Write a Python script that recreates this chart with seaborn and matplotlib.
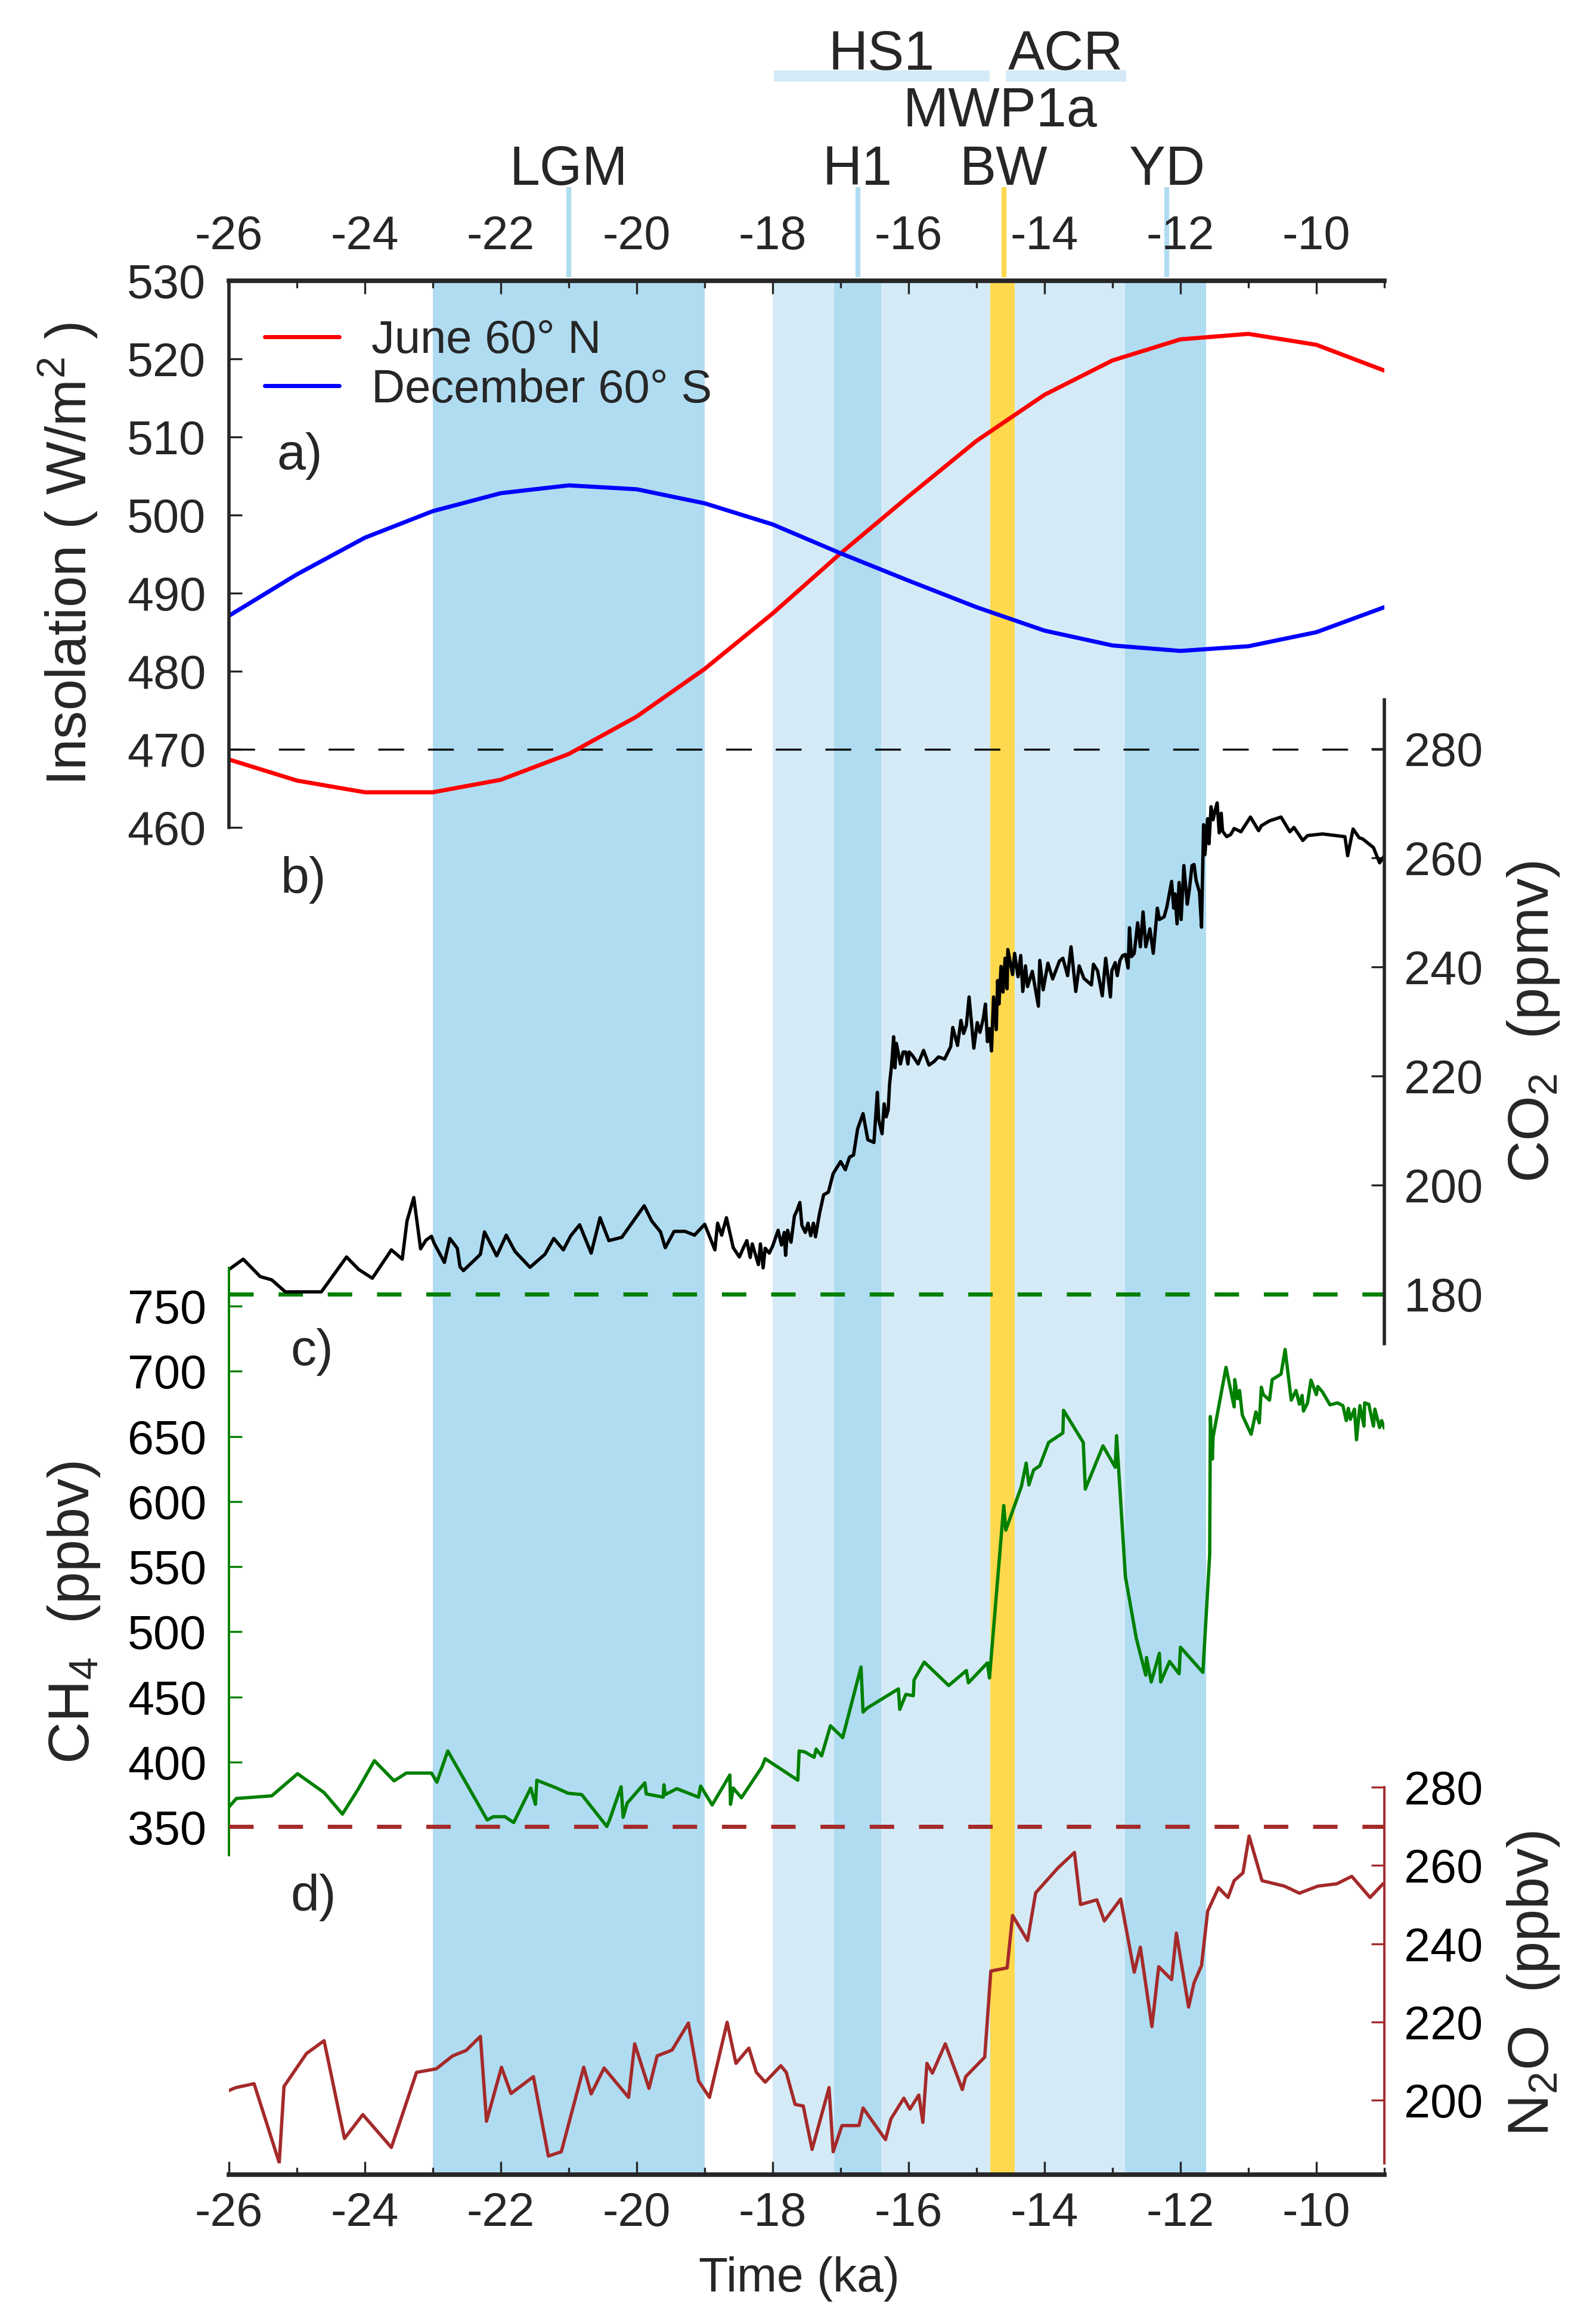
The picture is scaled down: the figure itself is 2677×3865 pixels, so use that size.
import numpy as np
import pandas as pd
import seaborn as sns
import matplotlib.pyplot as plt
from matplotlib.patches import Rectangle
from matplotlib.ticker import MultipleLocator

# a) insolation (W/m2), one value per ka
ins_age = [-26, -25, -24, -23, -22, -21, -20, -19, -18, -17, -16, -15, -14, -13, -12, -11, -10, -9]
june_60n = [468.7, 466.0, 464.5, 464.5, 466.1, 469.4, 474.2, 480.3, 487.4, 495.1,
            502.4, 509.5, 515.4, 519.8, 522.5, 523.2, 521.8, 518.5]
dec_60s = [487.1, 492.4, 497.1, 500.5, 502.8, 503.8, 503.3, 501.5, 498.8, 495.1,
           491.6, 488.2, 485.2, 483.3, 482.6, 483.2, 485.0, 488.2]

# b) CO2 (ppmv)
co2_age = [-26.00, -25.79, -25.54, -25.37, -25.17, -24.64, -24.27, -24.09, -23.89, -23.61,
           -23.45, -23.38, -23.28, -23.18, -23.10, -23.02, -22.98, -22.83, -22.75, -22.64,
           -22.60, -22.55, -22.34, -22.30, -22.24, -22.06, -21.92, -21.79, -21.57, -21.35,
           -21.22, -21.08, -20.97, -20.84, -20.67, -20.54, -20.41, -20.22, -19.89, -19.78,
           -19.65, -19.58, -19.45, -19.29, -19.15, -19.00, -18.85, -18.81, -18.75, -18.68,
           -18.58, -18.49, -18.43, -18.38, -18.33, -18.30, -18.21, -18.18, -18.14, -18.11,
           -18.05, -18.00, -17.92, -17.87, -17.83, -17.81, -17.78, -17.73, -17.68, -17.64,
           -17.60, -17.57, -17.52, -17.48, -17.44, -17.40, -17.37, -17.31, -17.25, -17.18,
           -17.11, -17.00, -16.93, -16.87, -16.81, -16.75, -16.67, -16.60, -16.51, -16.46,
           -16.44, -16.39, -16.36, -16.33, -16.30, -16.28, -16.25, -16.22, -16.20, -16.18,
           -16.12, -16.08, -16.04, -16.01, -15.99, -15.94, -15.86, -15.78, -15.70, -15.63,
           -15.56, -15.47, -15.38, -15.35, -15.28, -15.23, -15.19, -15.15, -15.11, -15.04,
           -14.99, -14.95, -14.90, -14.87, -14.84, -14.81, -14.78, -14.75, -14.71, -14.69,
           -14.67, -14.64, -14.61, -14.58, -14.55, -14.54, -14.47, -14.44, -14.39, -14.35,
           -14.32, -14.28, -14.25, -14.18, -14.09, -14.07, -14.02, -13.95, -13.88, -13.78,
           -13.73, -13.66, -13.61, -13.54, -13.49, -13.42, -13.31, -13.28, -13.22, -13.15,
           -13.10, -13.03, -13.01, -12.96, -12.93, -12.89, -12.85, -12.81, -12.77, -12.75,
           -12.72, -12.68, -12.63, -12.59, -12.55, -12.51, -12.45, -12.40, -12.34, -12.31,
           -12.24, -12.20, -12.13, -12.10, -12.08, -12.05, -12.02, -11.99, -11.95, -11.90,
           -11.87, -11.83, -11.80, -11.77, -11.72, -11.69, -11.66, -11.64, -11.60, -11.58,
           -11.55, -11.52, -11.49, -11.46, -11.43, -11.40, -11.38, -11.32, -11.26, -11.21,
           -11.11, -10.97, -10.85, -10.81, -10.69, -10.52, -10.39, -10.33, -10.20, -10.13,
           -9.91, -9.58, -9.54, -9.46, -9.37, -9.32, -9.16, -9.07, -9.01]
co2_ppmv = [184.5, 186.4, 183.2, 182.6, 180.4, 180.4, 186.8, 184.5, 182.9, 188.1,
            186.4, 193.4, 197.7, 188.3, 189.9, 190.6, 189.3, 185.8, 190.2, 188.4,
            185.0, 184.3, 186.8, 187.3, 191.4, 187.0, 190.8, 187.8, 184.9, 187.3,
            190.2, 188.1, 190.7, 192.7, 187.5, 194.0, 189.8, 190.4, 196.2, 193.4,
            191.4, 188.5, 191.5, 191.5, 190.8, 192.8, 188.1, 193.0, 190.8, 194.0,
            188.5, 186.8, 188.5, 189.8, 186.7, 189.2, 185.4, 189.2, 184.8, 188.4,
            187.5, 188.8, 191.7, 189.0, 191.3, 187.1, 191.7, 189.5, 194.3, 195.4,
            196.8, 192.6, 191.3, 193.0, 190.7, 193.0, 190.5, 194.8, 198.2, 198.7,
            202.1, 204.3, 202.8, 205.1, 205.5, 210.3, 213.1, 208.3, 207.8, 217.0,
            212.0, 209.4, 214.9, 212.5, 213.8, 218.5, 222.0, 227.2, 221.5, 226.0,
            222.2, 224.4, 224.4, 222.2, 224.4, 223.7, 222.2, 224.7, 222.0, 222.6,
            223.5, 223.1, 225.4, 228.9, 225.6, 230.2, 227.8, 229.3, 234.5, 225.1,
            229.8, 228.0, 230.6, 233.2, 226.3, 228.7, 224.6, 234.5, 228.5, 237.5,
            233.2, 240.1, 235.4, 241.6, 236.0, 243.2, 238.6, 242.5, 238.2, 242.1,
            235.5, 240.2, 236.4, 239.2, 232.8, 241.2, 235.8, 240.7, 237.8, 241.1,
            241.6, 238.4, 243.7, 235.5, 240.2, 237.9, 236.7, 240.5, 239.3, 234.7,
            241.6, 234.5, 239.3, 240.8, 238.4, 241.2, 242.1, 242.3, 239.8, 247.2,
            241.9, 242.5, 248.1, 243.7, 250.1, 243.7, 247.0, 242.5, 250.8, 248.7,
            249.2, 251.0, 255.7, 250.8, 253.4, 247.9, 255.5, 248.7, 258.6, 251.5,
            254.1, 258.6, 258.8, 255.9, 253.7, 247.3, 266.1, 260.6, 267.2, 262.6,
            269.4, 267.0, 268.7, 270.1, 264.6, 268.2, 264.9, 263.9, 264.3, 265.4,
            264.8, 267.5, 265.0, 265.9, 266.8, 267.5, 264.8, 265.6, 263.2, 264.1,
            264.4, 263.9, 260.4, 265.3, 263.7, 263.5, 261.9, 259.1, 260.2]

# c) CH4 (ppbv)
ch4_age = [-26.00, -25.89, -25.37, -24.99, -24.60, -24.33, -24.10, -23.86, -23.57, -23.39,
           -23.02, -22.94, -22.78, -22.20, -22.11, -21.94, -21.81, -21.56, -21.49, -21.47,
           -21.18, -21.01, -20.81, -20.44, -20.40, -20.23, -20.20, -20.14, -19.88, -19.86,
           -19.61, -19.60, -19.58, -19.41, -19.09, -19.06, -18.89, -18.63, -18.62, -18.58,
           -18.46, -18.16, -18.11, -17.63, -17.61, -17.53, -17.39, -17.36, -17.28, -17.15,
           -16.97, -16.70, -16.67, -16.61, -16.15, -16.13, -16.04, -15.93, -15.92, -15.77,
           -15.41, -15.15, -15.12, -14.84, -14.81, -14.70, -14.60, -14.57, -14.34, -14.27,
           -14.23, -14.16, -14.07, -13.94, -13.73, -13.72, -13.43, -13.40, -13.14, -12.96,
           -12.94, -12.81, -12.65, -12.51, -12.50, -12.43, -12.31, -12.29, -12.16, -12.02,
           -12.00, -11.67, -11.57, -11.56, -11.53, -11.52, -11.33, -11.21, -11.20, -11.16,
           -11.13, -11.09, -10.96, -10.89, -10.84, -10.81, -10.78, -10.69, -10.65, -10.52,
           -10.46, -10.37, -10.30, -10.25, -10.21, -10.19, -10.13, -10.08, -10.00, -9.98,
           -9.91, -9.80, -9.69, -9.61, -9.56, -9.53, -9.50, -9.44, -9.41, -9.36,
           -9.30, -9.29, -9.23, -9.16, -9.14, -9.07, -9.04, -9.00]
ch4_ppbv = [365.5, 372.0, 374.0, 391.0, 376.5, 360.0, 379.0, 401.0, 385.5, 391.5,
            391.5, 384.5, 408.5, 355.5, 358.0, 358.0, 353.5, 380.0, 367.5, 386.0,
            380.0, 376.0, 375.0, 350.5, 355.5, 381.0, 357.5, 368.5, 384.0, 375.5,
            373.0, 382.5, 375.0, 379.5, 373.0, 381.5, 367.0, 390.0, 367.5, 380.0,
            372.5, 396.0, 402.5, 386.0, 408.5, 407.8, 403.6, 409.9, 404.7, 427.8,
            418.7, 472.9, 438.3, 441.4, 456.1, 440.4, 451.9, 450.9, 462.9, 476.7,
            458.7, 470.2, 460.8, 476.1, 464.5, 533.9, 596.9, 578.0, 611.6, 629.5,
            612.7, 624.2, 627.4, 645.3, 652.6, 670.0, 645.3, 609.5, 642.7, 626.3,
            650.5, 542.3, 495.0, 466.6, 480.3, 461.4, 483.5, 461.4, 477.2, 467.7,
            488.1, 468.8, 559.1, 665.2, 632.6, 649.5, 703.0, 672.6, 693.6, 678.9,
            685.2, 666.3, 651.6, 668.8, 660.4, 687.7, 682.0, 677.8, 693.6, 697.8,
            716.7, 677.8, 685.2, 674.7, 681.4, 669.4, 675.7, 693.2, 682.0, 688.3,
            684.1, 674.2, 675.7, 673.6, 662.1, 671.5, 663.1, 670.9, 647.4, 673.6,
            657.9, 675.7, 674.7, 657.9, 670.9, 656.8, 662.1, 656.2]

# d) N2O (ppbv)
n2o_age = [-26.01, -25.90, -25.63, -25.26, -25.19, -24.86, -24.60, -24.30, -24.03, -23.61,
           -23.24, -22.95, -22.71, -22.51, -22.30, -22.21, -21.99, -21.85, -21.52, -21.30,
           -21.11, -20.78, -20.67, -20.48, -20.12, -20.03, -19.82, -19.70, -19.48, -19.24,
           -19.09, -18.93, -18.67, -18.54, -18.35, -18.24, -18.11, -17.88, -17.80, -17.67,
           -17.55, -17.42, -17.17, -17.11, -16.98, -16.73, -16.67, -16.34, -16.26, -16.07,
           -15.98, -15.85, -15.79, -15.73, -15.65, -15.46, -15.21, -15.16, -14.88, -14.79,
           -14.55, -14.47, -14.25, -14.13, -13.80, -13.56, -13.47, -13.23, -13.12, -12.88,
           -12.68, -12.59, -12.42, -12.32, -12.13, -12.06, -11.88, -11.80, -11.69, -11.60,
           -11.44, -11.30, -11.21, -11.08, -10.99, -10.80, -10.47, -10.25, -9.98, -9.70,
           -9.48, -9.21, -9.02]
n2o_ppbv = [202.4, 203.2, 204.2, 184.0, 203.5, 211.9, 215.2, 190.2, 196.3, 187.9,
            207.1, 208.0, 211.3, 212.7, 216.3, 194.6, 208.4, 201.7, 206.0, 185.7,
            186.8, 208.4, 201.6, 208.2, 200.7, 214.4, 203.0, 211.3, 212.8, 219.7,
            204.9, 200.7, 219.9, 209.4, 213.3, 207.1, 204.6, 208.8, 207.1, 198.9,
            198.5, 187.4, 203.2, 186.8, 193.5, 193.5, 198.0, 189.9, 195.2, 200.5,
            197.7, 201.3, 194.3, 209.4, 206.9, 214.4, 202.7, 206.0, 211.0, 233.0,
            233.8, 247.2, 240.8, 253.0, 259.4, 263.3, 250.0, 251.2, 245.8, 251.4,
            232.7, 239.1, 218.8, 234.1, 230.8, 242.7, 223.8, 230.0, 234.4, 248.3,
            254.3, 251.8, 256.1, 258.1, 267.5, 256.1, 254.7, 252.9, 254.7, 255.3,
            257.2, 251.8, 255.3]

# climate periods (ka) shaded behind all panels
period_start = [-23.0, -18.0, -17.1, -14.8, -14.44, -12.82]
period_end = [-19.0, -14.8, -16.4, -14.44, -12.82, -11.62]
period_kind = ['dark', 'light', 'dark', 'bw', 'light', 'dark']

event_names = ['LGM', 'H1', 'BW', 'YD']
event_ages = [-21.0, -16.75, -14.6, -12.2]
event_kind = ['dark', 'dark', 'bw', 'dark']

bar_names = ['HS1', 'ACR']
bar_start = [-17.98, -14.57]
bar_end = [-14.81, -12.80]

shade = {'dark': '#B0DCF1', 'light': '#D4EBF7', 'bw': '#FED94D'}
brown = '#A52A2A'

sns.set_style('ticks')
plt.rcParams['font.family'] = ['Liberation Sans', 'DejaVu Sans']
plt.rcParams['mathtext.fontset'] = 'custom'
plt.rcParams['mathtext.rm'] = 'Liberation Sans'
plt.rcParams['mathtext.it'] = 'Liberation Sans:italic'
plt.rcParams['axes.unicode_minus'] = False

W_PX, H_PX = 2677, 3865


def box(top, bottom):
    # pixel rows of the reference -> figure fraction rectangle
    return [384 / W_PX, 1 - bottom / H_PX, 1938 / W_PX, (bottom - top) / H_PX]


fig = plt.figure(figsize=(W_PX / 100, H_PX / 100), dpi=100)
ax0 = fig.add_axes(box(471, 3648))
ax_a = fig.add_axes(box(471, 1388))
ax_b = fig.add_axes(box(1174, 2254))
ax_c = fig.add_axes(box(2127, 3112))
ax_d = fig.add_axes(box(2998, 3629))

# background shading
for s, e, k in zip(period_start, period_end, period_kind):
    ax0.axvspan(s, e, color=shade[k], lw=0, zorder=0)
ax0.set_yticks([])
for sp in ['left', 'right', 'top']:
    ax0.spines[sp].set_visible(False)
ax0.spines['bottom'].set_linewidth(5.5)

for ax in [ax0, ax_a, ax_b, ax_c, ax_d]:
    ax.set_xlim(-26, -9)
    ax.set_facecolor('none')
    ax.xaxis.set_major_locator(MultipleLocator(2))
    ax.xaxis.set_minor_locator(MultipleLocator(1))

for ax in [ax_b, ax_c, ax_d]:
    ax.tick_params(axis='x', which='both', bottom=False, top=False,
                   labelbottom=False, labeltop=False)

ax0.tick_params(axis='x', which='major', direction='in', length=16, width=2.4,
                labelsize=57, pad=20, bottom=True, top=False)
ax0.tick_params(axis='x', which='minor', direction='in', length=8.6, width=2.4,
                bottom=True, top=False)

# a) insolation
sns.lineplot(x=ins_age, y=june_60n, ax=ax_a, color='#FF0000', lw=5, label='June 60° N',
             sort=False, estimator=None)
sns.lineplot(x=ins_age, y=dec_60s, ax=ax_a, color='#0000FF', lw=5, label='December 60° S',
             sort=False, estimator=None)
ax_a.axhline(470, color='black', lw=2.4, dashes=(13, 12), zorder=1)
ax_a.set_ylim(460, 530)
ax_a.set_yticks(np.arange(460, 531, 10))
for sp in ['right', 'bottom']:
    ax_a.spines[sp].set_visible(False)
ax_a.spines['left'].set_linewidth(4)
ax_a.spines['top'].set_linewidth(5.5)
ax_a.xaxis.set_ticks_position('top')
ax_a.tick_params(axis='x', which='major', direction='in', length=16, width=2.4,
                 labelsize=57, pad=26, top=True, bottom=False, labeltop=True, labelbottom=False)
ax_a.tick_params(axis='x', which='minor', direction='in', length=8.6, width=2.4,
                 top=True, bottom=False)
ax_a.tick_params(axis='y', direction='in', length=16, width=2.4, labelsize=57, pad=28)
ax_a.set_xlabel('')
ax_a.set_ylabel('Insolation ( W/m$^{2}$ )', fontsize=68)
ax_a.yaxis.set_label_coords(-0.112, 0.5)
ax_a.legend(loc='upper left', bbox_to_anchor=(0.031, 0.93), frameon=False, fontsize=56,
            handlelength=1.6, handletextpad=0.7, labelspacing=0.12, borderaxespad=0,
            borderpad=0)

# b) CO2
sns.lineplot(x=co2_age, y=co2_ppmv, ax=ax_b, color='black', lw=4,
             sort=False, estimator=None)
ax_b.axhline(180, color='green', lw=5, dashes=(5.9, 6), zorder=1)
ax_b.set_ylim(170.9, 289.0)
ax_b.set_yticks(np.arange(180, 281, 20))
for sp in ['left', 'top', 'bottom']:
    ax_b.spines[sp].set_visible(False)
ax_b.spines['right'].set_linewidth(4)
ax_b.yaxis.set_ticks_position('right')
ax_b.yaxis.set_label_position('right')
ax_b.tick_params(axis='y', direction='in', length=16, width=2.4, labelsize=57, pad=24)
ax_b.set_xlabel('')
ax_b.set_ylabel('CO$_2$  (ppmv)', fontsize=70)
ax_b.yaxis.set_label_coords(1.105, 0.5)

# c) CH4
sns.lineplot(x=ch4_age, y=ch4_ppbv, ax=ax_c, color='green', lw=4,
             sort=False, estimator=None)
ax_c.set_ylim(328.5, 779.3)
ax_c.set_yticks(np.arange(350, 751, 50))
for sp in ['right', 'top', 'bottom']:
    ax_c.spines[sp].set_visible(False)
ax_c.spines['left'].set_color('green')
ax_c.spines['left'].set_linewidth(2.8)
ax_c.tick_params(axis='y', direction='in', length=16, width=2.4, labelsize=57, pad=27,
                 color='green', labelcolor='black')
ax_c.set_xlabel('')
ax_c.set_ylabel('CH$_4$  (ppbv)', fontsize=70)
ax_c.yaxis.set_label_coords(-0.11, 0.413)

# d) N2O
sns.lineplot(x=n2o_age, y=n2o_ppbv, ax=ax_d, color=brown, lw=4,
             sort=False, estimator=None)
ax_d.axhline(270, color=brown, lw=5, dashes=(5.9, 6), zorder=1)
ax_d.set_ylim(183.85, 280)
ax_d.set_yticks(np.arange(200, 281, 20))
for sp in ['left', 'top', 'bottom']:
    ax_d.spines[sp].set_visible(False)
ax_d.spines['right'].set_color(brown)
ax_d.spines['right'].set_linewidth(2.8)
ax_d.yaxis.set_ticks_position('right')
ax_d.yaxis.set_label_position('right')
ax_d.tick_params(axis='y', direction='in', length=16, width=2.4, labelsize=57, pad=24,
                 color=brown, labelcolor='black')
ax_d.set_xlabel('')
ax_d.set_ylabel('N$_2$O  (ppbv)', fontsize=70)
ax_d.yaxis.set_label_coords(1.105, 0.477)

# panel letters
for letter, (px, py) in zip(['a)', 'b)', 'c)', 'd)'],
                            [(464, 765), (470, 1476), (487, 2268), (487, 3183)]):
    fig.text(px / W_PX, 1 - py / H_PX, letter, fontsize=62, ha='left', va='center')

fig.text(1340 / W_PX, 1 - 3823 / H_PX, 'Time (ka)', fontsize=58, ha='center', va='center')

# events above the top axis
trans = ax0.get_xaxis_transform()
for name, age, k in zip(event_names, event_ages, event_kind):
    ax0.plot([age, age], [1.0019, 1.0495], color=shade[k], lw=6, transform=trans,
             clip_on=False, solid_capstyle='butt')
    ax0.text(age, 1.0507, name, transform=trans, fontsize=66, ha='center', va='baseline')
ax0.text(-14.65, 1.0815, 'MWP1a', transform=trans, fontsize=66, ha='center', va='baseline')
for name, s, e in zip(bar_names, bar_start, bar_end):
    ax0.add_patch(Rectangle((s, 1.1051), e - s, 0.0060, transform=trans,
                            color=shade['light'], lw=0, clip_on=False))
    ax0.text((s + e) / 2, 1.1114, name, transform=trans, fontsize=66, ha='center',
             va='baseline')

plt.savefig('out.png', dpi=100)
